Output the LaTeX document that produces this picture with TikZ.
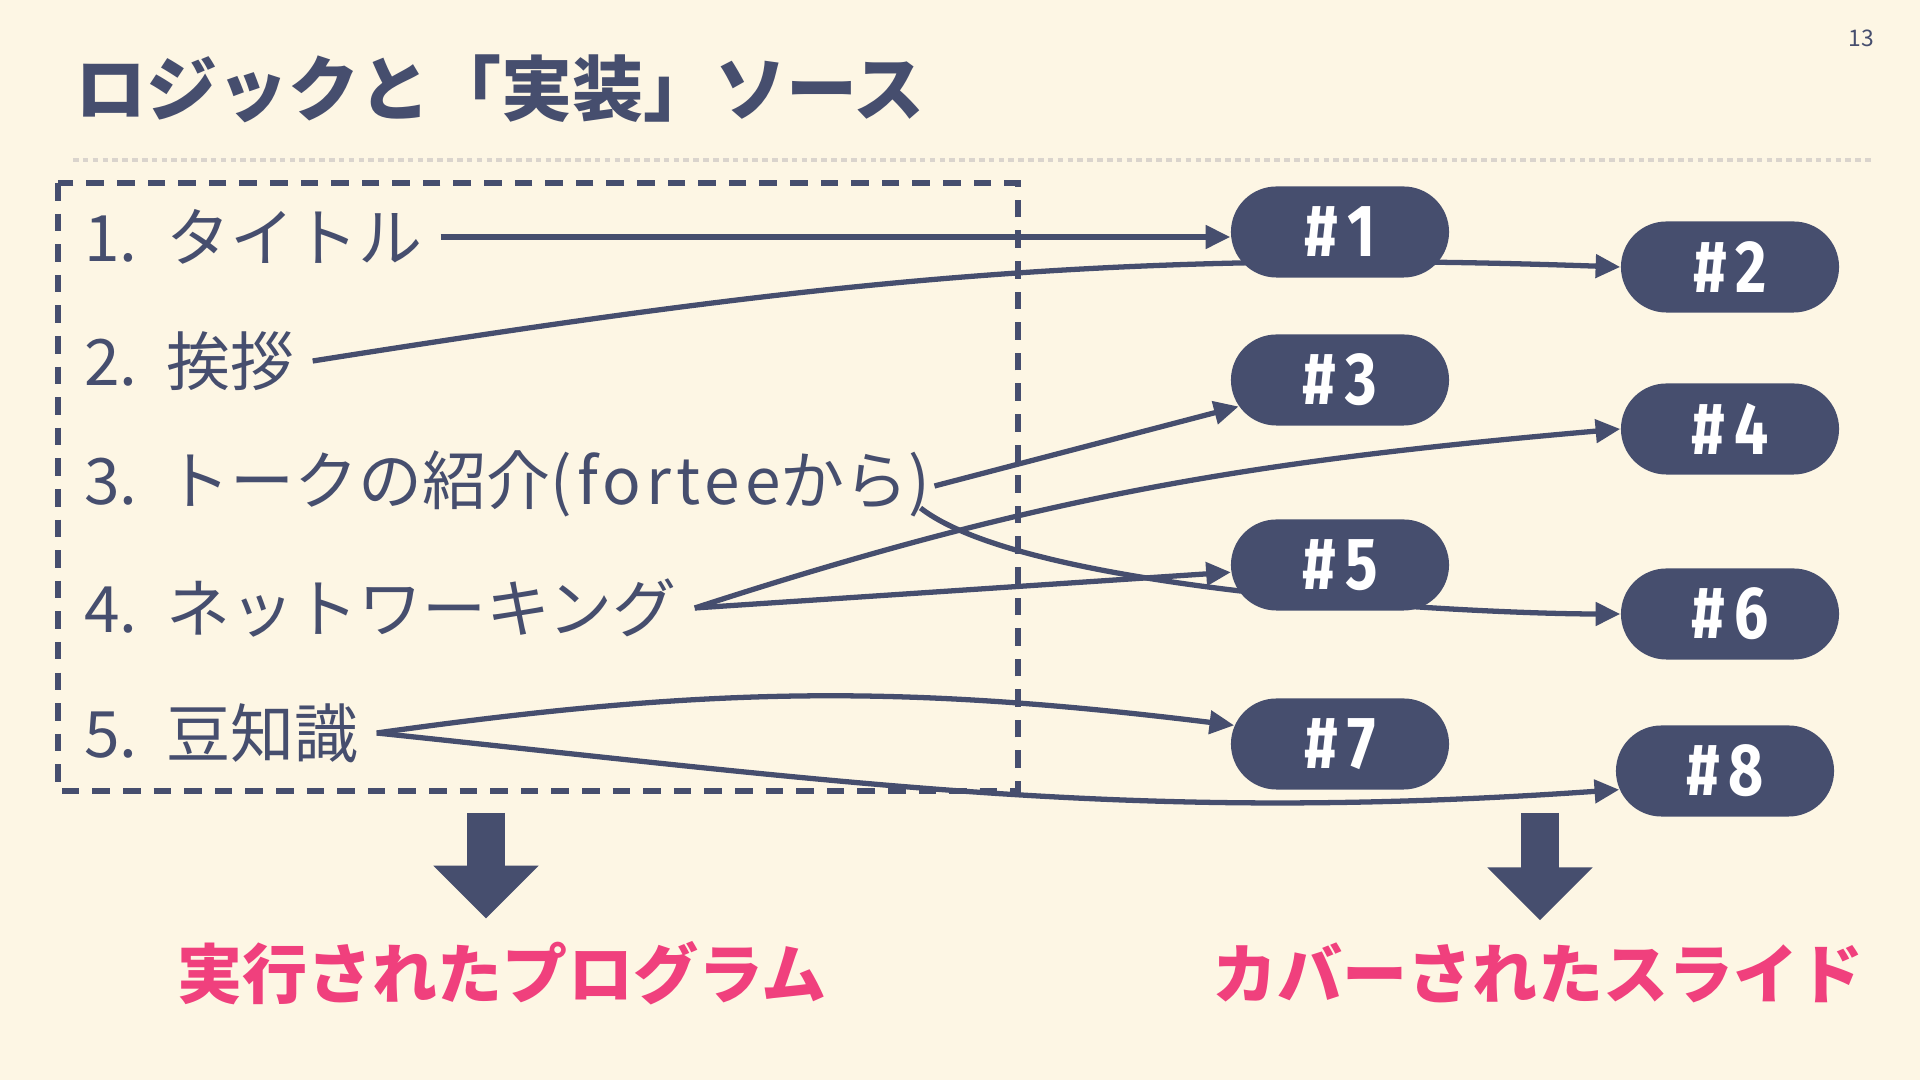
\documentclass[tikz,border=0pt]{standalone}
\usepackage{fontspec}
\setmainfont{Noto Sans CJK JP}
\newfontfamily\pillfont[FakeStretch=0.82]{Fira Sans}
\usetikzlibrary{arrows.meta, shapes.misc, backgrounds, calc}
\definecolor{ink}{RGB}{70,78,110}
\definecolor{hot}{RGB}{240,64,125}
\definecolor{cream}{RGB}{253,246,228}
\definecolor{rulegray}{RGB}{218,212,205}

\begin{document}
\begin{tikzpicture}[
  x=0.01cm, y=-0.01cm,
  title/.style ={anchor=west, text=ink, inner sep=0pt, font=\bfseries\fontsize{20.2pt}{22pt}\selectfont},
  item/.style  ={anchor=west, text=ink, inner sep=5pt, font=\fontsize{18.2pt}{20pt}\selectfont},
  slide/.style ={rounded rectangle, fill=ink, text=white, minimum width=2.18cm, minimum height=0.91cm,
                 inner sep=0pt, font=\pillfont\bfseries\fontsize{21pt}{22pt}\selectfont},
  result/.style={text=hot, inner sep=0pt, font=\bfseries\fontsize{18.5pt}{20pt}\selectfont},
  arr/.style   ={-{Triangle[length=7pt,width=6.5pt]}, draw=ink, line width=1.5pt},
  bigarr/.style={-{Triangle[length=15pt,width=29pt]}, draw=ink, line width=10.8pt, shorten >=0.22cm},
  dbox/.style  ={draw=ink, line width=1.9pt, dash pattern=on 5pt off 3.7pt},
]
\useasboundingbox (0,0) rectangle (1920,1080);

% --- Title ---
\node[title] (ttl) at (75,89) {ロジックと「実装」ソース};
\node[text=ink, font=\fontsize{6.5pt}{7pt}\selectfont] (pg) at (1861,38) {13};

% --- Left column: program items ---
\node[item] (i1) at (66,237) {1.\hspace{0.45em}タイトル};
\node[item] (i2) at (66,361) {2.\hspace{0.45em}挨拶};
\node[item] (i3) at (66,484) {3.\hspace{0.45em}トークの紹介{\addfontfeatures{LetterSpace=8}(fortee}から{\addfontfeatures{LetterSpace=8})}};
\node[item] (i4) at (66,608) {4.\hspace{0.45em}ネットワーキング};
\node[item] (i5) at (66,733) {5.\hspace{0.45em}豆知識};

% --- Slides (two staggered columns) ---
\node[slide] (s1) at (1340,232) {\#\hspace{0.12em}1};
\node[slide] (s2) at (1730,267) {\#\hspace{0.12em}2};
\node[slide] (s3) at (1340,380) {\#\hspace{0.12em}3};
\node[slide] (s4) at (1730,429) {\#\hspace{0.12em}4};
\node[slide] (s5) at (1340,565) {\#\hspace{0.12em}5};
\node[slide] (s6) at (1730,614) {\#\hspace{0.12em}6};
\node[slide] (s7) at (1340,744) {\#\hspace{0.12em}7};
\node[slide] (s8) at (1725,771) {\#\hspace{0.12em}8};

% --- Results ---
\node[result] (prog) at (502,973)  {実行されたプログラム};
\node[result] (cov)  at (1538,973) {カバーされたスライド};
\coordinate (pd) at (486,813);
\coordinate (cd) at (1540,813);

\begin{scope}[on background layer]
\fill[cream] (0,0) rectangle (1920,1080);
\draw[rulegray, line width=1pt, dash pattern=on 1.6pt off 1.2pt] (73,160) -- (1873,160);
\draw[dbox] (58,183) rectangle (1018,791);

% --- Arrows ---
\draw[arr] (i1.east) -- (i1.east -| s1.west);
\draw[arr] (i2.east) to[out=9, in=178] (s2.west);
\draw[arr] ($(i3.east)+(-14,2)$) -- (s3);
\draw[arr] ($(i3.east)+(-28,24)$) to[out=-38, in=180, looseness=0.5] (s6.west);
\draw[arr] (i4.east) to[out=18, in=185] (s4.west);
\draw[arr] (i4.east) -- (s5);
\draw[arr] (i5.east) to[out=8, in=173] (s7.170);
\draw[arr] (i5.east) to[out=-6, in=184] (s8.190);
\end{scope}

\draw[bigarr] (pd) -- (pd |- prog.north);
\draw[bigarr] (cd) -- (cd |- cov.north);
\end{tikzpicture}
\end{document}
